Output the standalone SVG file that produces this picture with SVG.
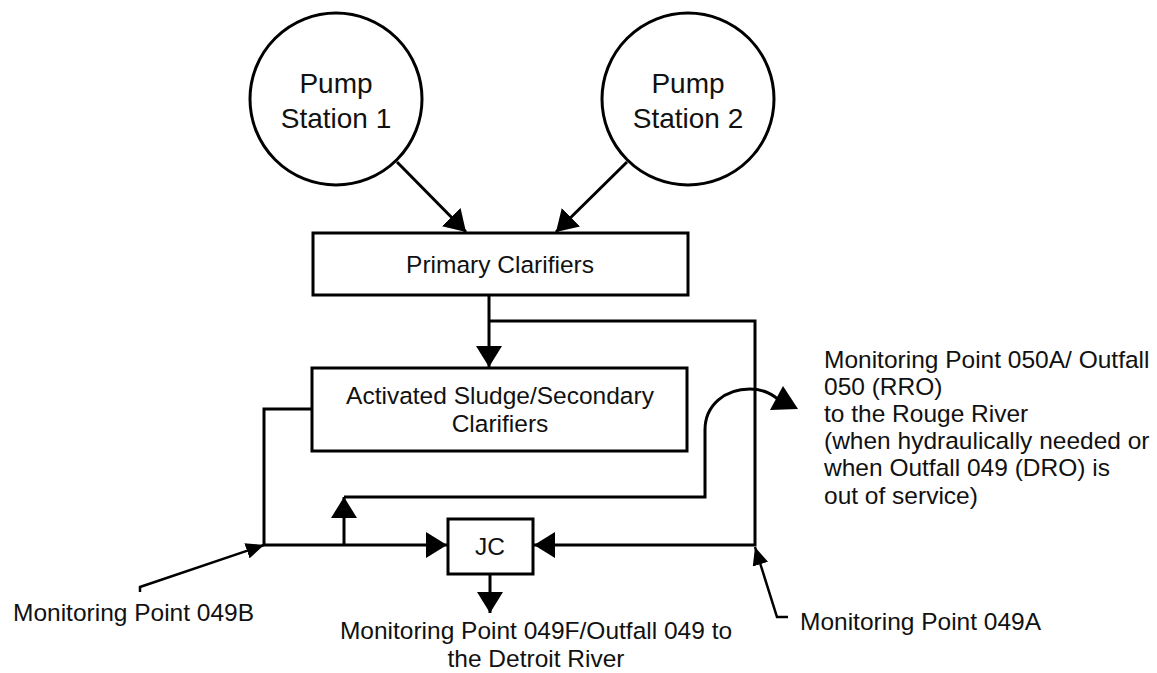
<svg xmlns="http://www.w3.org/2000/svg" width="1157" height="673" viewBox="0 0 1157 673">
<style>
.shape{fill:#fff;stroke:#000;stroke-width:3}
.ln{fill:none;stroke:#000;stroke-width:3}
.thin{fill:none;stroke:#000;stroke-width:2.5}
text{font-family:"Liberation Sans",Arial,sans-serif;fill:#111;font-size:24.5px}
.c{text-anchor:middle}
.big{font-size:28px}
</style>
<defs>
<marker id="ah" viewBox="0 0 21 26" refX="21" refY="13" markerWidth="21" markerHeight="26" markerUnits="userSpaceOnUse" orient="auto">
<path d="M0,0 L21,13 L0,26 Z" fill="#000"/>
</marker>
<marker id="ahs" viewBox="0 0 18 16" refX="18" refY="8" markerWidth="18" markerHeight="16" markerUnits="userSpaceOnUse" orient="auto">
<path d="M0,0 L18,8 L0,16 Z" fill="#000"/>
</marker>
</defs>
<rect width="1157" height="673" fill="#fff"/>

<g id="pump1">
<circle class="shape" cx="336" cy="99" r="86"/>
<text class="c big" x="336" y="93">Pump</text>
<text class="c big" x="336" y="128">Station 1</text>
</g>
<g id="pump2">
<circle class="shape" cx="688" cy="99" r="86"/>
<text class="c big" x="688" y="93">Pump</text>
<text class="c big" x="688" y="128">Station 2</text>
</g>
<g id="primary">
<rect class="shape" x="313" y="233" width="375" height="62"/>
<text class="c" x="500" y="273">Primary Clarifiers</text>
</g>
<g id="activated">
<rect class="shape" x="312" y="368" width="375" height="83"/>
<text class="c" x="500" y="404">Activated Sludge/Secondary</text>
<text class="c" x="500" y="432">Clarifiers</text>
</g>
<g id="jc">
<rect class="shape" x="448" y="519" width="85" height="55"/>
<text class="c" x="490" y="555">JC</text>
</g>
<g id="label-050">
<text x="824" y="368">Monitoring Point 050A/ Outfall</text>
<text x="824" y="395">050 (RRO)</text>
<text x="824" y="422">to the Rouge River</text>
<text x="824" y="449">(when hydraulically needed or</text>
<text x="824" y="476">when Outfall 049 (DRO) is</text>
<text x="824" y="504">out of service)</text>
</g>
<g id="label-049B">
<text x="13" y="621">Monitoring Point 049B</text>
</g>
<g id="label-049F">
<text class="c" x="536" y="639">Monitoring Point 049F/Outfall 049 to</text>
<text class="c" x="536" y="667">the Detroit River</text>
</g>
<g id="label-049A">
<text x="800" y="630">Monitoring Point 049A</text>
</g>

<g id="connectors">
<line class="ln" x1="397" y1="162" x2="466" y2="232" marker-end="url(#ah)"/>
<line class="ln" x1="627" y1="162" x2="556" y2="232" marker-end="url(#ah)"/>
<line class="ln" x1="489" y1="295" x2="489" y2="367" marker-end="url(#ah)"/>
<polyline class="ln" points="489,321 755,321 755,545 534,545" marker-end="url(#ah)"/>
<polyline class="ln" points="312,409 264,409 264,545 447,545" marker-end="url(#ah)"/>
<line class="ln" x1="344" y1="545" x2="344" y2="497" marker-end="url(#ah)"/>
<path class="ln" d="M344,497 H705 V430 C705,405 725,389 750,389 C763,389 772,394 779,400"/>
<polygon points="770,410 798,409 783,386" fill="#000"/>
<line class="ln" x1="490" y1="574" x2="490" y2="613" marker-end="url(#ah)"/>
<polyline class="thin" points="140,592 140,587 264,545" marker-end="url(#ahs)"/>
<polyline class="thin" points="788,617 777,617 755,547" marker-end="url(#ahs)"/>
</g>
</svg>
